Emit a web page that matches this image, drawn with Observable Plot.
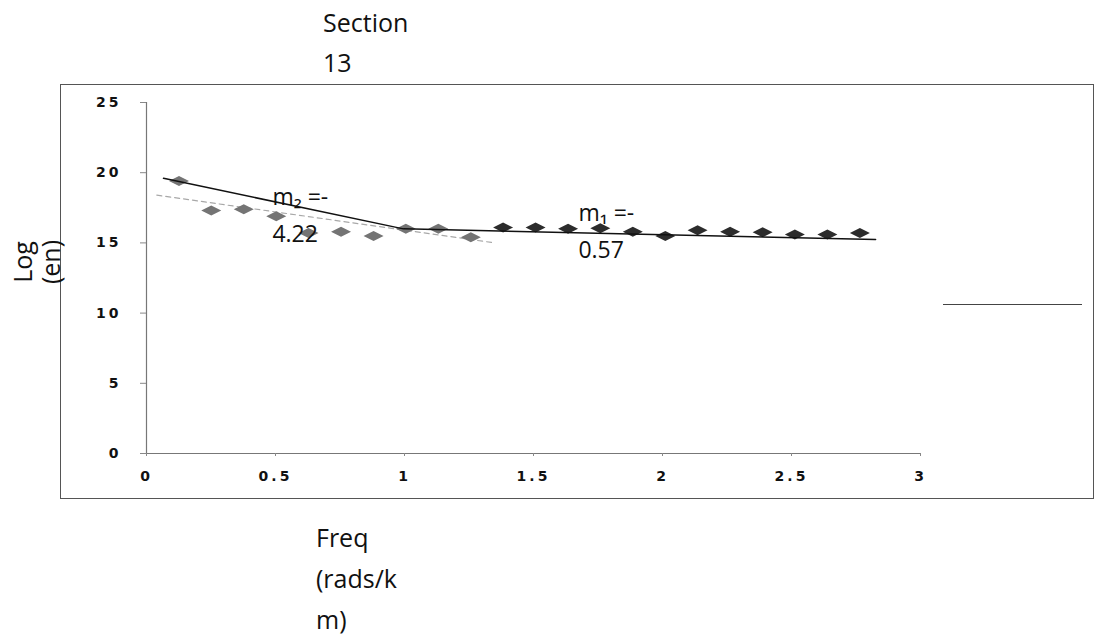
<!DOCTYPE html>
<html>
<head>
<meta charset="utf-8">
<script src="https://cdn.jsdelivr.net/npm/d3@7"></script>
<script src="https://cdn.jsdelivr.net/npm/@observablehq/plot@0.6"></script>
<style>
  html, body { margin: 0; padding: 0; background: #fff; overflow: hidden; }
  #wrap { position: relative; width: 1097px; height: 637px; overflow: hidden; background: #fff; }
  #chart { position: absolute; left: 0; top: 0; }
  .lbl { position: absolute; font-family: "Open Sans", sans-serif; font-size: 25px; line-height: 40px; color: #111; white-space: nowrap; }
  #frame { position: absolute; left: 60px; top: 84px; width: 1034px; height: 415px; border: 1.5px solid #555; box-sizing: border-box; pointer-events: none; }
  #stray { position: absolute; left: 943px; top: 304px; width: 139px; height: 0; border-top: 1.5px solid #444; }
  #chart svg g[aria-label="y-axis tick label"],
  #chart svg g[aria-label="x-axis tick label"] { font-family: "DejaVu Sans", sans-serif; font-size: 14px; font-weight: bold; }
  #chart svg g[aria-label="y-axis tick label"] text,
  #chart svg g[aria-label="x-axis tick label"] text { letter-spacing: 3px; font-size: 14px; font-weight: bold; }
</style>
</head>
<body>
<div id="wrap">
  <div id="chart"></div>
  <div id="frame"></div>
  <div id="stray"></div>
  <div class="lbl" id="title" style="left:323px; top:2px;">Section<br>13</div>
  <div class="lbl" id="xlab" style="left:316px; top:517px; line-height:41px;">Freq<br>(rads/k<br>m)</div>
  <div class="lbl" id="ylab" style="left:-24px; top:234px; width:120px; height:56px; line-height:28px; text-align:center; transform:rotate(-90deg); transform-origin:60px 28px;">Log<br>(en)</div>
</div>
<script>
// Data
const freq = [0.126, 0.251, 0.377, 0.503, 0.628, 0.754, 0.880, 1.005, 1.131, 1.257, 1.382,
              1.508, 1.634, 1.759, 1.885, 2.011, 2.136, 2.262, 2.388, 2.513, 2.639, 2.765];
const logEn = [19.4, 17.3, 17.4, 16.9, 15.7, 15.8, 15.5, 16.0, 16.0, 15.4, 16.1,
               16.1, 16.0, 16.05, 15.8, 15.5, 15.9, 15.8, 15.75, 15.6, 15.6, 15.7];
const segment = ["low","low","low","low","low","low","low","low","low","low",
                 "high","high","high","high","high","high","high","high","high","high","high","high"];

// Fitted slope lines
const fitX = [0.066, 0.996, 2.826];
const fitY = [19.6, 16.0, 15.24];
const dashX = [0.04, 1.35];
const dashY = [18.4, 15.0];

// Slope annotations
const annoX = [0.488, 1.674];
const annoY = [17.2, 16.1];
const annoText = ["m\u2082 =-\n4.22", "m\u2081 =-\n0.57"];

// Axis ticks
const xTicks = [0, 0.5, 1, 1.5, 2, 2.5, 3];
const yTicks = [0, 5, 10, 15, 20, 25];

const points = freq.map((f, i) => ({freq: f, logEn: logEn[i], segment: segment[i]}));
const fit = fitX.map((x, i) => ({x, y: fitY[i]}));
const dash = dashX.map((x, i) => ({x, y: dashY[i]}));
const anno = annoX.map((x, i) => ({x, y: annoY[i], text: annoText[i]}));

const flatDiamond = {
  draw(ctx, size) {
    const r = Math.sqrt(size / Math.PI);
    ctx.moveTo(-2 * r, 0);
    ctx.lineTo(0, -r);
    ctx.lineTo(2 * r, 0);
    ctx.lineTo(0, r);
    ctx.closePath();
  }
};

const chart = Plot.plot({
  width: 1097,
  height: 637,
  marginLeft: 146,
  marginRight: 177,
  marginTop: 102,
  marginBottom: 184,
  style: {background: "transparent", color: "#111", fontFamily: "DejaVu Sans"},
  x: {domain: [0, 3]},
  y: {domain: [0, 25]},
  color: {domain: ["low", "high"], range: ["#747474", "#2c2c2c"]},
  marks: [
    Plot.ruleX([0], {y1: 0, y2: 25, stroke: "#777", strokeWidth: 1.2}),
    Plot.ruleY([0], {stroke: "#777", strokeWidth: 1.2}),
    Plot.axisY({ticks: yTicks, tickSize: 6, tickPadding: 19, stroke: "#888", tickFormat: d => String(d), fontSize: 14, fill: "#111"}),
    Plot.axisX({ticks: xTicks, tickSize: 3, tickPadding: 15, stroke: "#888", tickFormat: d => String(d), fontSize: 14, fill: "#111"}),
    Plot.line(dash, {x: "x", y: "y", stroke: "#a8a8a8", strokeWidth: 1.2, strokeDasharray: "5,4"}),
    Plot.dot(points, {x: "freq", y: "logEn", fill: "segment", r: 5, symbol: flatDiamond}),
    Plot.line(fit, {x: "x", y: "y", stroke: "#111", strokeWidth: 1.5}),
    Plot.text(anno, {x: "x", y: "y", text: "text", textAnchor: "start", lineHeight: 1.6, fontSize: 23, fontFamily: "Open Sans", fill: "#111"})
  ]
});
document.getElementById("chart").appendChild(chart);
</script>
</body>
</html>
